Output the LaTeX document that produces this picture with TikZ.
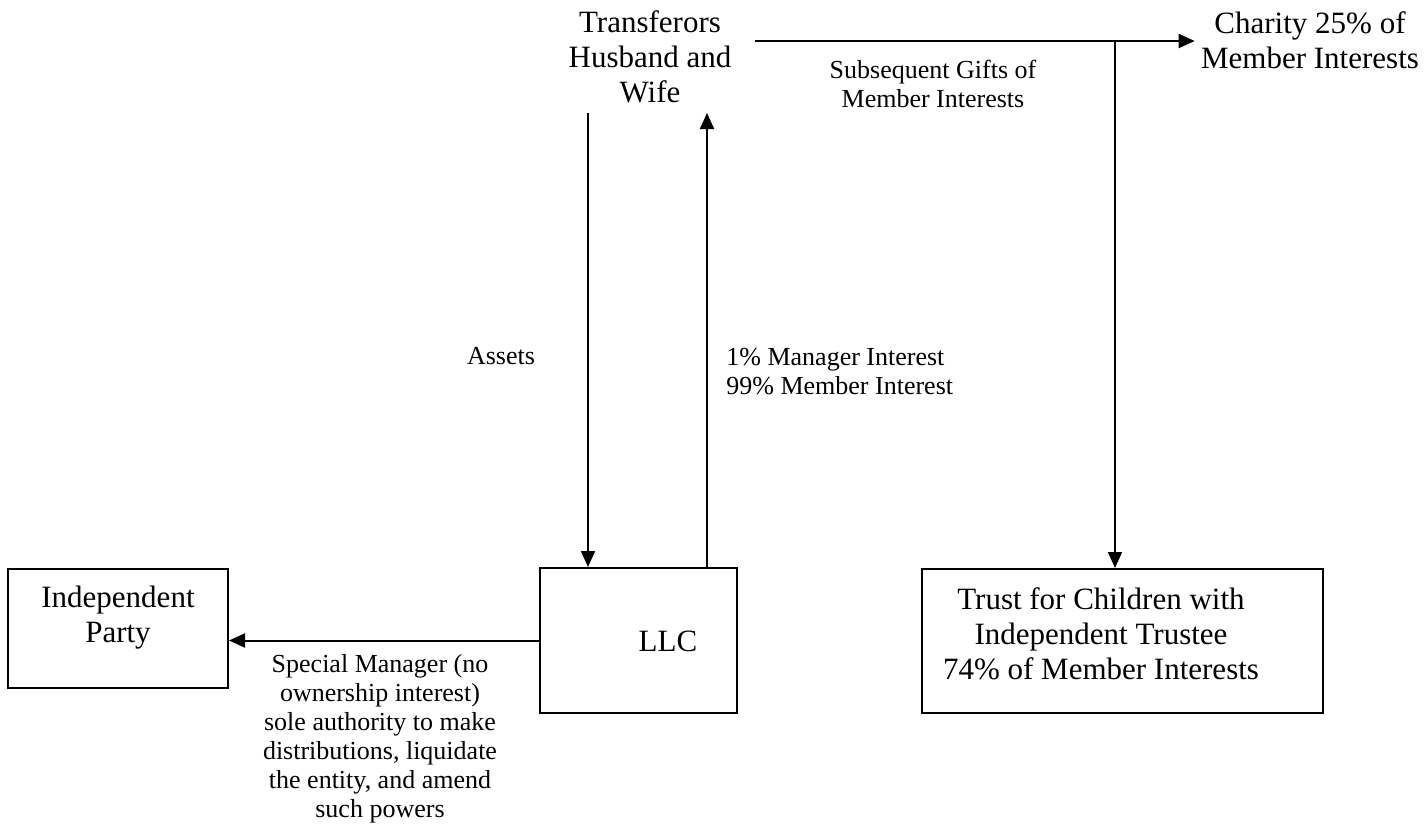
\documentclass[tikz,border=0pt]{standalone}
\usepackage{fontspec}
\setmainfont{Liberation Serif}
\usetikzlibrary{arrows.meta}
\begin{document}
\begin{tikzpicture}[x=0.5pt,y=-0.5pt,
  big/.style={font=\fontsize{15.5}{17.5}\selectfont, align=center, inner sep=0pt},
  small/.style={font=\fontsize{13}{14.5}\selectfont, align=center, inner sep=0pt},
  boxnode/.style={draw, line width=1pt, inner sep=0pt},
  conn/.style={line width=1pt, -{Triangle[length=8pt,width=7pt]}}]
\useasboundingbox (0,0) rectangle (1424,835);
% nodes
\node[big] (tw) at (650,57) {Transferors\\Husband and\\Wife};
\node[big, inner sep=3pt] (ch) at (1310,40) {Charity 25\% of\\Member Interests};
\node[boxnode, minimum width=98.5pt, minimum height=72.5pt] (llc) at (638.5,640.5) {};
\node[big] (llct) at (668,641) {LLC};
\node[boxnode, minimum width=110pt, minimum height=59.5pt] (ip) at (118,628.5) {};
\node[big] (ipt) at (118,618) {Independent\\Party};
\node[boxnode, minimum width=200.5pt, minimum height=72pt] (tr) at (1122.5,641) {};
\node[big] (trt) at (1101,634) {Trust for Children with\\Independent Trustee\\74\% of Member Interests};
% labels
\node[small] (sg) at (933,84) {Subsequent Gifts of\\Member Interests};
\node[small] (as) at (501,356) {Assets};
\node[small, align=left, anchor=west] (mi) at (726,372) {1\% Manager Interest\\99\% Member Interest};
\node[small] (sm) at (380,739) {Special Manager (no\\ownership interest)\\sole authority to make\\distributions, liquidate\\the entity, and amend\\such powers};
% connector coordinates
\coordinate (a1) at (588,113);
\coordinate (a2) at (707,113);
\coordinate (h1) at (755,41);
\coordinate (j1) at (1115,41);
% connectors
\draw[conn] (a1) -- (a1 |- llc.north);
\draw[conn] (a2 |- llc.north) -- (a2);
\draw[conn] (llc.west) -- (ip.east |- llc.west);
\draw[conn] (h1) -- (ch.west |- h1);
\draw[conn] (j1) -- (j1 |- tr.north);
\end{tikzpicture}
\end{document}
